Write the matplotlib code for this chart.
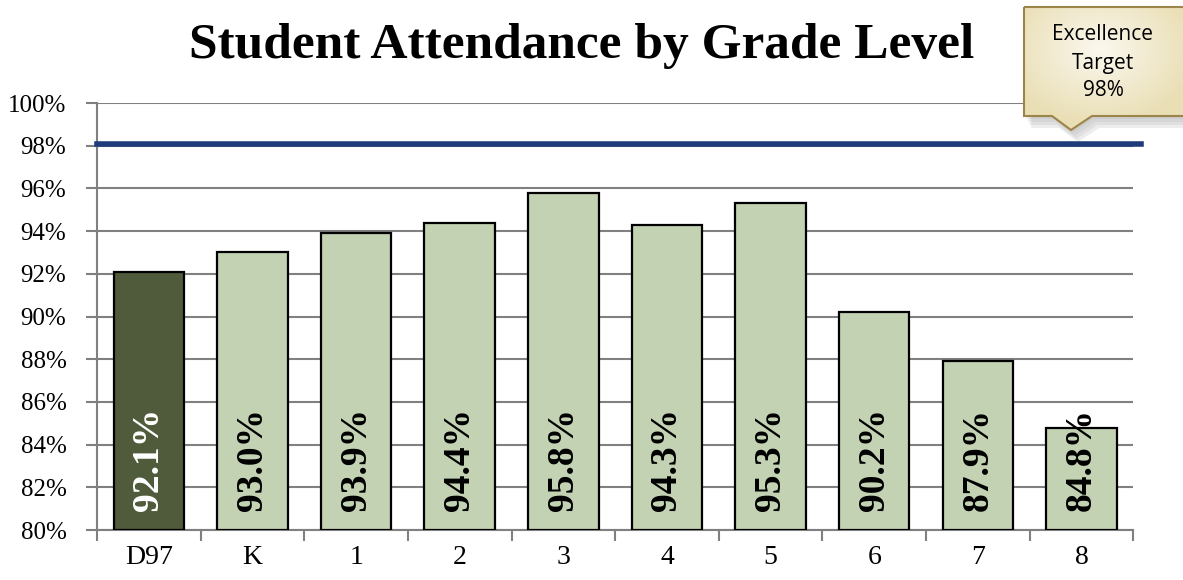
import matplotlib
matplotlib.use("Agg")
import matplotlib.pyplot as plt
import numpy as np
from matplotlib.patches import Polygon
from matplotlib.ticker import FixedLocator
from matplotlib.colors import LinearSegmentedColormap

grades = ["D97", "K", "1", "2", "3", "4", "5", "6", "7", "8"]
attendance = [92.1, 93.0, 93.9, 94.4, 95.8, 94.3, 95.3, 90.2, 87.9, 84.8]
target = 98.1
yticks = list(range(80, 101, 2))

serif = ["Liberation Serif", "DejaVu Serif"]
plt.rcParams["font.family"] = serif

fig = plt.figure(figsize=(11.83, 5.8), dpi=100)
ax = fig.add_axes([0.082, 0.0862, 0.876, 0.7362])

x = np.arange(len(grades))
colors = ["#4F5B3A"] + ["#C4D2B4"] * (len(grades) - 1)
ax.bar(x, [v - 80 for v in attendance], bottom=80, width=0.68,
       color=colors, edgecolor="black", linewidth=1.6, zorder=3)

for i, v in enumerate(attendance):
    ax.text(i, 80.9, f"{v:.1f}%", rotation=90, ha="center", va="bottom",
            fontsize=27, fontweight="bold",
            color="white" if i == 0 else "black", zorder=4)

ax.axhline(target, xmin=0, xmax=1.007, color="#1F3B7A", linewidth=4,
           zorder=5, clip_on=False)

ax.set_xlim(-0.5, len(grades) - 0.5)
ax.set_ylim(80, 100)
ax.set_yticks(yticks)
ax.set_yticklabels([f"{t}%" for t in yticks], fontsize=18)
ax.yaxis.grid(True, color="#808080", linewidth=1.5, zorder=0)
ax.set_xticks(x)
ax.set_xticklabels(grades, fontsize=20)
ax.xaxis.set_minor_locator(FixedLocator(np.arange(-0.5, len(grades), 1.0)))
ax.tick_params(axis="x", which="major", length=0, pad=11)
ax.tick_params(axis="x", which="minor", length=8, width=1.5, color="#808080")
ax.tick_params(axis="y", length=8, width=1.5, color="#808080", pad=14)
for s in ["top", "right"]:
    ax.spines[s].set_visible(False)
for s in ["left", "bottom"]:
    ax.spines[s].set_color("#808080")
    ax.spines[s].set_linewidth(1.5)

fig.text(0.492, 0.92, "Student Attendance by Grade Level", ha="center",
         va="center", fontsize=37, fontweight="bold")

# callout box (pixel coords, origin top-left)
W, H = 1183, 580
def px(pts):
    return [(a / W, 1 - b / H) for a, b in pts]

box = [(1024, 7), (1190, 7), (1190, 116), (1092, 116), (1071, 130),
       (1052, 116), (1024, 116)]
for k, al in enumerate([0.07, 0.08, 0.10, 0.12]):
    d = 3 + 3 * k
    sh = [(a + d * 0.6, b + d) for a, b in box]
    fig.patches.append(Polygon(px(sh), closed=True, transform=fig.transFigure,
                               facecolor="#707070", edgecolor="none", alpha=al))

# gradient fill clipped to the callout shape
cax = fig.add_axes([0, 0, 1, 1], zorder=2)
cax.set_axis_off()
cax.set_xlim(0, W)
cax.set_ylim(H, 0)
gx, gy = np.meshgrid(np.linspace(1024, 1183, 80), np.linspace(7, 130, 60))
r = np.sqrt(((gx - 1100) / 90) ** 2 + ((gy - 50) / 70) ** 2)
cmap = LinearSegmentedColormap.from_list("cb", ["#FBF8EE", "#E9DEB4"])
im = cax.imshow(r, extent=(1024, 1183, 130, 7), cmap=cmap, vmin=0, vmax=1.1,
                aspect="auto", interpolation="bilinear")
shape = Polygon(box, closed=True, facecolor="none", edgecolor="#9C8548",
                linewidth=1.5, transform=cax.transData)
cax.add_patch(shape)
im.set_clip_path(shape)
for txt, yy in [("Excellence", 34), ("Target", 63), ("98%", 90)]:
    cax.text(1103, yy, txt, ha="center", va="center",
             fontsize=15, family=["Open Sans", "DejaVu Sans"])

fig.savefig("out.png", dpi=100)
